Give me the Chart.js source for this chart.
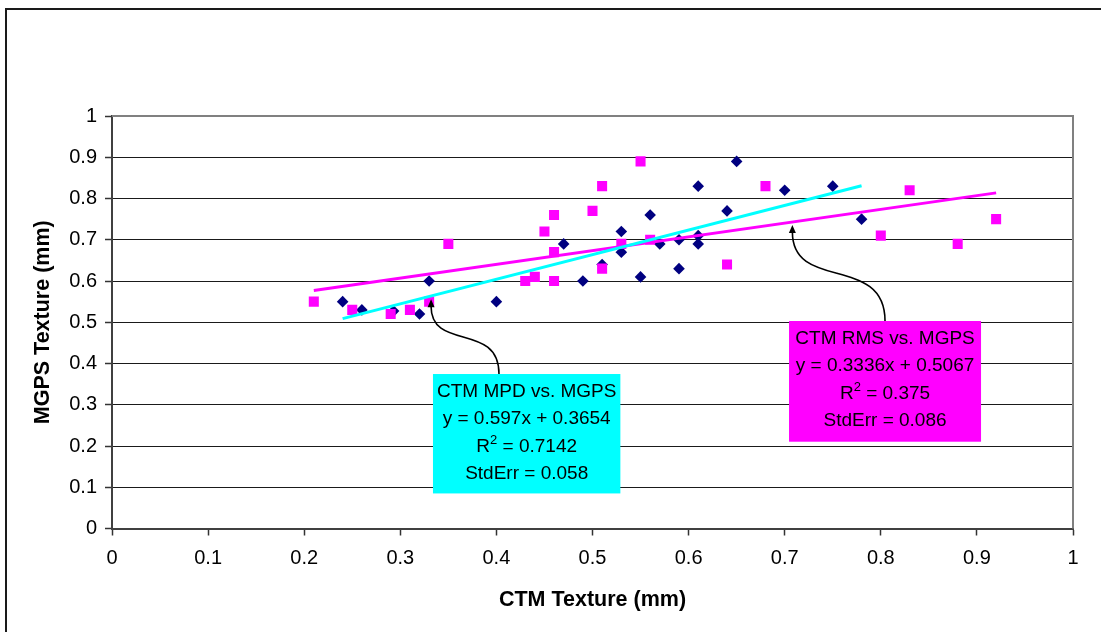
<!DOCTYPE html>
<html>
<head>
<meta charset="utf-8">
<title>CTM vs. MGPS Texture</title>
<script src="https://cdn.jsdelivr.net/npm/chart.js@4/dist/chart.umd.min.js"></script>
<style>
  html, body { margin: 0; padding: 0; background: #ffffff; overflow: hidden; }
  #wrap { width: 1101px; height: 632px; position: relative; }
  canvas { display: block; }
</style>
</head>
<body>
<div id="wrap"><canvas id="chart" width="1101" height="632"></canvas></div>
<script>
// ---- Data -----------------------------------------------------------------
// CTM MPD (x) against MGPS texture (y), in mm
const mpdX = [0.24, 0.26, 0.293, 0.32, 0.33, 0.40, 0.47, 0.49, 0.51, 0.53, 0.53, 0.55,
              0.56, 0.57, 0.59, 0.59, 0.61, 0.61, 0.61, 0.64, 0.65, 0.70, 0.75, 0.78];
const mpdY = [0.55, 0.53, 0.527, 0.52, 0.60, 0.55, 0.69, 0.60, 0.64, 0.72, 0.67, 0.61,
              0.76, 0.69, 0.70, 0.63, 0.83, 0.71, 0.69, 0.77, 0.89, 0.82, 0.83, 0.75];

// CTM RMS (x) against MGPS texture (y), in mm
const rmsX = [0.21, 0.25, 0.29, 0.31, 0.33, 0.35, 0.43, 0.44, 0.45, 0.46, 0.46, 0.46,
              0.50, 0.51, 0.51, 0.53, 0.55, 0.56, 0.64, 0.68, 0.80, 0.83, 0.88, 0.92];
const rmsY = [0.55, 0.53, 0.52, 0.53, 0.55, 0.69, 0.60, 0.61, 0.72, 0.76, 0.67, 0.60,
              0.77, 0.83, 0.63, 0.69, 0.89, 0.70, 0.64, 0.83, 0.71, 0.82, 0.69, 0.75];

// Linear regression results for each pair
const mpdFit = { name: 'CTM MPD vs. MGPS', slope: 0.597, intercept: 0.3654, r2: 0.7142, stdErr: 0.058 };
const rmsFit = { name: 'CTM RMS vs. MGPS', slope: 0.3336, intercept: 0.5067, r2: 0.375, stdErr: 0.086 };

// Axis tick labels
const xTickLabels = ['0', '0.1', '0.2', '0.3', '0.4', '0.5', '0.6', '0.7', '0.8', '0.9', '1'];
const yTickLabels = ['0', '0.1', '0.2', '0.3', '0.4', '0.5', '0.6', '0.7', '0.8', '0.9', '1'];

// ---- Helpers --------------------------------------------------------------
const toPoints = (xs, ys) => xs.map((x, i) => ({ x, y: ys[i] }));
const fitLine = (fit, xs) => {
  const lo = Math.min(...xs), hi = Math.max(...xs);
  return [{ x: lo, y: fit.slope * lo + fit.intercept }, { x: hi, y: fit.slope * hi + fit.intercept }];
};

const FONT = '"Liberation Sans", Arial, Helvetica, sans-serif';

// Callout boxes (in axis units) with the connector that points at each trend line
const callouts = [
  { fit: mpdFit, fill: '#00FFFF', box: { x0: 0.334, x1: 0.529, y0: 0.3745, y1: 0.085 },
    from: { x: 0.4027 }, tip: { x: 0.332, y: 0.556 } },
  { fit: rmsFit, fill: '#FF00FF', box: { x0: 0.7045, x1: 0.9043, y0: 0.503, y1: 0.2104 },
    from: { x: 0.8044 }, tip: { x: 0.708, y: 0.736 } }
];

// Outer frame and plot-area border
const framePlugin = {
  id: 'frame',
  beforeDraw(chart) {
    const ctx = chart.ctx;
    ctx.save();
    ctx.fillStyle = '#ffffff';
    ctx.fillRect(0, 0, chart.width, chart.height);
    ctx.strokeStyle = '#1a1a1a';
    ctx.lineWidth = 2;
    ctx.strokeRect(6, 9, chart.width + 50, chart.height + 50);
    ctx.restore();
  },
  beforeDatasetsDraw(chart) {
    const { ctx, chartArea: a } = chart;
    ctx.save();
    ctx.strokeStyle = '#808080';
    ctx.lineWidth = 2;
    ctx.beginPath();
    ctx.moveTo(a.left, a.top);
    ctx.lineTo(a.right, a.top);
    ctx.lineTo(a.right, a.bottom);
    ctx.stroke();
    ctx.restore();
  }
};

// Regression callouts: filled box, four text lines, curved arrow
const calloutPlugin = {
  id: 'callouts',
  afterDraw(chart) {
    const ctx = chart.ctx;
    const xs = chart.scales.x, ys = chart.scales.y;
    const size = 19;
    const capHalf = size * 0.358;
    ctx.save();
    callouts.forEach(c => {
      const L = xs.getPixelForValue(c.box.x0), R = xs.getPixelForValue(c.box.x1);
      const T = ys.getPixelForValue(c.box.y0), B = ys.getPixelForValue(c.box.y1);

      // connector
      const sx = xs.getPixelForValue(c.from.x), sy = T;
      const tx = xs.getPixelForValue(c.tip.x), ty = ys.getPixelForValue(c.tip.y);
      const dy = sy - ty, k = 0.7, head = 8;
      ctx.strokeStyle = '#000000';
      ctx.fillStyle = '#000000';
      ctx.lineWidth = 1.6;
      ctx.beginPath();
      ctx.moveTo(sx, sy);
      ctx.bezierCurveTo(sx, sy - k * dy, tx, ty + k * dy, tx, ty + head - 1);
      ctx.stroke();
      ctx.beginPath();
      ctx.moveTo(tx, ty);
      ctx.lineTo(tx - 3.5, ty + head);
      ctx.lineTo(tx + 3.5, ty + head);
      ctx.closePath();
      ctx.fill();

      // box
      ctx.fillStyle = c.fill;
      ctx.fillRect(L, T, R - L, B - T);

      // text
      const cx = (L + R) / 2;
      const rows = [16.5, 43, 71.5, 98];
      ctx.fillStyle = '#000000';
      ctx.textBaseline = 'alphabetic';
      ctx.textAlign = 'center';
      ctx.font = `${size}px ${FONT}`;
      ctx.fillText(c.fit.name, cx, T + rows[0] + capHalf);
      ctx.fillText(`y = ${c.fit.slope}x + ${c.fit.intercept}`, cx, T + rows[1] + capHalf);
      ctx.fillText(`StdErr = ${c.fit.stdErr}`, cx, T + rows[3] + capHalf);

      // R² line with a raised 2
      const base = T + rows[2] + capHalf;
      const p1 = 'R', p3 = ` = ${c.fit.r2}`;
      ctx.font = `${size}px ${FONT}`;
      const w1 = ctx.measureText(p1).width, w3 = ctx.measureText(p3).width;
      ctx.font = `${Math.round(size * 0.66)}px ${FONT}`;
      const w2 = ctx.measureText('2').width;
      let x = cx - (w1 + w2 + w3) / 2;
      ctx.textAlign = 'left';
      ctx.font = `${size}px ${FONT}`;
      ctx.fillText(p1, x, base);
      x += w1;
      ctx.font = `${Math.round(size * 0.66)}px ${FONT}`;
      ctx.fillText('2', x, base - 8);
      x += w2;
      ctx.font = `${size}px ${FONT}`;
      ctx.fillText(p3, x, base);
    });
    ctx.restore();
  }
};

const PLOT_LEFT = 112, PLOT_BOTTOM_GAP = 103.5;

new Chart(document.getElementById('chart'), {
  type: 'scatter',
  data: {
    datasets: [
      { label: 'MPD trend', type: 'line', data: fitLine(mpdFit, mpdX), order: 0,
        borderColor: '#00FFFF', borderWidth: 3, pointRadius: 0, fill: false },
      { label: 'RMS trend', type: 'line', data: fitLine(rmsFit, rmsX), order: 0,
        borderColor: '#FF00FF', borderWidth: 3, pointRadius: 0, fill: false },
      { label: 'CTM RMS', data: toPoints(rmsX, rmsY), order: 1,
        pointStyle: 'rect', pointRadius: 7.1, pointBorderWidth: 0,
        backgroundColor: '#FF00FF', borderColor: '#FF00FF' },
      { label: 'CTM MPD', data: toPoints(mpdX, mpdY), order: 2,
        pointStyle: 'rectRot', pointRadius: 5.8, pointBorderWidth: 0,
        backgroundColor: '#000080', borderColor: '#000080' }
    ]
  },
  options: {
    responsive: false,
    animation: false,
    devicePixelRatio: 1,
    layout: { padding: { left: 0, top: 116, right: 28, bottom: 0 } },
    plugins: { legend: { display: false }, tooltip: { enabled: false } },
    scales: {
      x: {
        type: 'linear', min: 0, max: 1,
        afterFit(scale) { scale.height = PLOT_BOTTOM_GAP; },
        ticks: {
          stepSize: 0.1, padding: 11, color: '#000000',
          font: { family: FONT, size: 20 },
          callback: (v, i) => xTickLabels[i]
        },
        grid: { drawOnChartArea: false, drawTicks: true, tickLength: 7, tickColor: '#333333', tickWidth: 1.5 },
        border: { display: true, color: '#404040', width: 2 },
        title: {
          display: true, text: 'CTM Texture (mm)', color: '#000000',
          font: { family: FONT, size: 21.5, weight: 'bold' },
          padding: { top: 0, bottom: 19 }
        }
      },
      y: {
        type: 'linear', min: 0, max: 1,
        afterFit(scale) { scale.width = PLOT_LEFT; },
        ticks: {
          stepSize: 0.1, padding: 8, color: '#000000',
          font: { family: FONT, size: 20 },
          callback: (v, i) => yTickLabels[i]
        },
        grid: { color: '#1a1a1a', lineWidth: 1, drawTicks: true, tickLength: 7, tickColor: '#333333', tickWidth: 1.5 },
        border: { display: true, color: '#404040', width: 2 },
        title: {
          display: true, text: 'MGPS Texture (mm)', color: '#000000',
          font: { family: FONT, size: 21.5, weight: 'bold' },
          padding: { top: 30, bottom: 0 }
        }
      }
    }
  },
  plugins: [framePlugin, calloutPlugin]
});
</script>
</body>
</html>
